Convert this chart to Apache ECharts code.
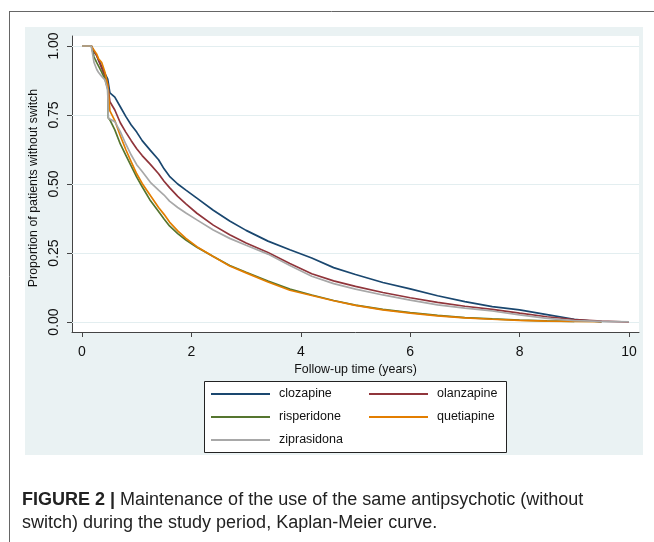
<!DOCTYPE html>
<html>
<head>
<meta charset="utf-8">
<script src="https://cdn.jsdelivr.net/npm/echarts@6/dist/echarts.min.js"></script>
<style>
html,body{margin:0;padding:0;background:#fff;}
#c{width:654px;height:542px;}
</style>
</head>
<body>
<div id="c"></div>
<script>
// Follow-up time (years)
const times = [0, 0.17, 0.22, 0.27, 0.30, 0.36, 0.42, 0.47, 0.48, 0.51,
  0.6, 0.7, 0.8, 0.9, 1.0, 1.1, 1.25, 1.4, 1.5, 1.6,
  1.75, 1.9, 2.1, 2.4, 2.7, 3.0, 3.4, 3.8, 4.2, 4.6,
  5.0, 5.5, 6.0, 6.5, 7.0, 7.5, 8.0, 8.5, 9.0, 9.5, 10.0];

const clozapine = [1, 1, 0.98, 0.965, 0.95, 0.925, 0.90, 0.88, 0.875, 0.83,
  0.815, 0.78, 0.745, 0.714, 0.688, 0.657, 0.622, 0.588, 0.555, 0.528,
  0.50, 0.478, 0.449, 0.405, 0.366, 0.332, 0.293, 0.262, 0.232, 0.197,
  0.172, 0.143, 0.12, 0.095, 0.074, 0.056, 0.044, 0.027, 0.010, 0.0, null];

const olanzapine = [1, 1, 0.98, 0.965, 0.95, 0.92, 0.89, 0.86, 0.845, 0.798,
  0.768, 0.722, 0.688, 0.657, 0.628, 0.603, 0.571, 0.537, 0.51, 0.487,
  0.455, 0.428, 0.394, 0.351, 0.316, 0.286, 0.252, 0.212, 0.175, 0.149,
  0.129, 0.107, 0.088, 0.071, 0.057, 0.046, 0.032, 0.019, 0.009, 0.003, 0.0];

const risperidone = [1, 1, 0.96, 0.94, 0.935, 0.905, 0.88, 0.845, 0.74, 0.732,
  0.696, 0.645, 0.605, 0.565, 0.525, 0.49, 0.44, 0.40, 0.373, 0.348,
  0.32, 0.297, 0.271, 0.237, 0.205, 0.18, 0.148, 0.119, 0.098, 0.078,
  0.061, 0.046, 0.034, 0.024, 0.016, 0.011, 0.007, 0.004, 0.002, null, null];

const quetiapine = [1, 1, 0.985, 0.97, 0.955, 0.94, 0.905, 0.86, 0.84, 0.765,
  0.73, 0.675, 0.625, 0.58, 0.537, 0.502, 0.458, 0.415, 0.39, 0.362,
  0.33, 0.303, 0.273, 0.237, 0.203, 0.178, 0.145, 0.115, 0.096, 0.077,
  0.06, 0.044, 0.032, 0.022, 0.015, 0.01, 0.006, 0.003, 0.002, 0.001, null];

const ziprasidona = [1, 1, 0.94, 0.915, 0.905, 0.89, 0.877, 0.84, 0.738, 0.735,
  0.726, 0.69, 0.645, 0.605, 0.57, 0.545, 0.506, 0.478, 0.46, 0.438,
  0.415, 0.395, 0.37, 0.333, 0.303, 0.278, 0.246, 0.205, 0.166, 0.139,
  0.119, 0.098, 0.079, 0.062, 0.05, 0.04, 0.026, 0.013, 0.005, 0.002, 0.001];

const seriesNames = ['clozapine', 'olanzapine', 'risperidone', 'quetiapine', 'ziprasidona'];
const seriesValues = [clozapine, olanzapine, risperidone, quetiapine, ziprasidona];
const seriesColors = ['#1a476f', '#90353b', '#55752f', '#e37e00', '#a8a8a8'];

const xTicks = [0, 2, 4, 6, 8, 10];
const yTicks = [0, 0.25, 0.5, 0.75, 1];

const xTitle = 'Follow-up time (years)';
const yTitle = 'Proportion of patients without switch';
const captionBold = 'FIGURE 2 |';
const captionLine1 = ' Maintenance of the use of the same antipsychotic (without';
const captionLine2 = 'switch) during the study period, Kaplan-Meier curve.';

const FONT = '"Liberation Sans", Arial, sans-serif';

const chart = echarts.init(document.getElementById('c'), null, {renderer: 'canvas'});

const series = seriesNames.map((name, i) => {
  const s = {
    name: name,
    type: 'line',
    data: times.map((t, j) => [t, seriesValues[i][j]]),
    showSymbol: false,
    symbol: 'none',
    connectNulls: false,
    lineStyle: {color: seriesColors[i], width: 1.7},
    itemStyle: {color: seriesColors[i]},
    z: 3
  };
  if (i === 0) {
    s.markLine = {
      silent: true,
      symbol: 'none',
      z: 1,
      label: {show: false},
      lineStyle: {color: '#e3eef0', width: 1.2, type: 'solid'},
      data: yTicks.map(v => ({yAxis: v}))
    };
  }
  return s;
});

const legendStyle = {
  orient: 'vertical',
  icon: 'rect',
  itemWidth: 59,
  itemHeight: 2,
  itemGap: 9,
  padding: 0,
  textStyle: {fontFamily: FONT, fontSize: 12.5, color: '#111', lineHeight: 14, padding: [0, 0, 0, 4]}
};

chart.setOption({
  animation: false,
  backgroundColor: '#ffffff',
  grid: {
    left: 72, top: 36, width: 567, height: 296,
    show: true, backgroundColor: '#ffffff', borderWidth: 0
  },
  xAxis: {
    type: 'value',
    min: -0.1828, max: 10.183,
    axisLine: {show: true, onZero: false, lineStyle: {color: '#444', width: 1}},
    axisTick: {show: true, length: 5, lineStyle: {color: '#444'}, customValues: xTicks},
    axisLabel: {show: true, customValues: xTicks, margin: 13, fontFamily: FONT, fontSize: 14, color: '#111'},
    splitLine: {show: false},
    name: xTitle,
    nameLocation: 'middle',
    nameGap: 28,
    nameTextStyle: {fontFamily: FONT, fontSize: 12.4, color: '#111'}
  },
  yAxis: {
    type: 'value',
    min: -0.0362, max: 1.0362,
    axisLine: {show: true, onZero: false, lineStyle: {color: '#444', width: 1}},
    axisTick: {show: true, length: 5, lineStyle: {color: '#444'}, customValues: yTicks},
    axisLabel: {show: true, customValues: yTicks, rotate: 90, margin: 11,
      formatter: v => v.toFixed(2), fontFamily: FONT, fontSize: 14, color: '#111'},
    splitLine: {show: false},
    name: yTitle,
    nameLocation: 'middle',
    nameGap: 29,
    nameTextStyle: {fontFamily: FONT, fontSize: 12.4, color: '#111', padding: [0, 8, 0, 0]}
  },
  legend: [
    Object.assign({}, legendStyle, {left: 211, top: 387, data: ['clozapine', 'risperidone', 'ziprasidona']}),
    Object.assign({}, legendStyle, {left: 369, top: 387, data: ['olanzapine', 'quetiapine']})
  ],
  graphic: [
    {type: 'rect', z: -100, shape: {x: 25, y: 27, width: 618, height: 428}, style: {fill: '#eaf2f3'}},
    {type: 'line', z: -100, shape: {x1: 9.5, y1: 11, x2: 9.5, y2: 542}, style: {stroke: '#666', lineWidth: 1}},
    {type: 'line', z: -100, shape: {x1: 9, y1: 11.5, x2: 654, y2: 11.5}, style: {stroke: '#666', lineWidth: 1}},
    {type: 'rect', z: -50, shape: {x: 204.5, y: 381.5, width: 302, height: 71}, style: {fill: '#fff', stroke: '#222', lineWidth: 1}},
    {
      type: 'text', left: 22, top: 489, z: 10,
      style: {
        text: '{b|' + captionBold + '}' + captionLine1 + '\n' + captionLine2,
        fontFamily: FONT, fontSize: 18, lineHeight: 23, fill: '#222',
        rich: {b: {fontWeight: 'bold', fontFamily: FONT, fontSize: 18, lineHeight: 23, fill: '#222'}}
      }
    }
  ],
  series: series
});
</script>
</body>
</html>
